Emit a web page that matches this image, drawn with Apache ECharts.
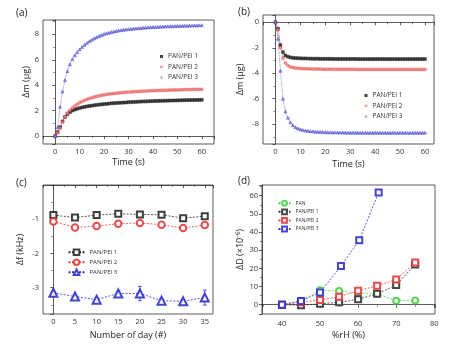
<!DOCTYPE html>
<html lang="en">
<head>
<meta charset="UTF-8">
<title>QCM humidity panels</title>
<script src="https://cdn.jsdelivr.net/npm/echarts@6/dist/echarts.min.js"></script>
<style>
    html, body { margin: 0; padding: 0; background: #fff; }
    #chart { width: 456px; height: 351px; }
</style>
</head>
<body>
<div id="chart"></div>
<script>
    // (a) adsorption, (b) desorption: time in s, mass change in ug
    var timeA = [0,1,2,3,4,5,6,7,8,9,10,11,12,13,14,15,16,17,18,19,20,21,22,23,24,25,26,27,28,29,30,
                 31,32,33,34,35,36,37,38,39,40,41,42,43,44,45,46,47,48,49,50,51,52,53,54,55,56,57,58,59,60];
    var ads1 = [0,0.3,0.7,1.15,1.5,1.72,1.88,2.0,2.08,2.14,2.2,2.25,2.29,2.33,2.36,2.39,2.42,2.45,2.47,2.49,2.51,
                2.53,2.55,2.57,2.58,2.6,2.61,2.62,2.63,2.64,2.66,2.67,2.68,2.69,2.7,2.71,2.72,2.72,2.73,2.74,2.75,
                2.76,2.76,2.77,2.77,2.78,2.78,2.79,2.79,2.8,2.8,2.81,2.81,2.82,2.82,2.83,2.83,2.83,2.84,2.84,2.85];
    var ads2 = [0,0.25,0.6,1.1,1.5,1.8,2.02,2.2,2.36,2.5,2.62,2.72,2.81,2.89,2.96,3.02,3.07,3.12,3.16,3.2,3.24,
                3.27,3.3,3.32,3.35,3.37,3.39,3.41,3.43,3.44,3.46,3.47,3.48,3.5,3.51,3.52,3.53,3.54,3.55,3.56,3.57,
                3.58,3.58,3.59,3.6,3.6,3.61,3.62,3.62,3.63,3.63,3.64,3.64,3.65,3.65,3.66,3.66,3.67,3.67,3.67,3.68];
    var ads3 = [0,0.7,2.3,3.5,4.4,5.1,5.65,6.05,6.35,6.6,6.82,7.0,7.17,7.32,7.46,7.58,7.69,7.78,7.87,7.95,8.02,
                8.08,8.13,8.18,8.22,8.26,8.3,8.33,8.36,8.39,8.41,8.43,8.45,8.47,8.49,8.5,8.52,8.53,8.55,8.56,8.57,
                8.58,8.59,8.6,8.61,8.62,8.63,8.64,8.64,8.65,8.66,8.66,8.67,8.68,8.68,8.69,8.69,8.7,8.7,8.71,8.72];
    var timeB = timeA;
    var des1 = [0,-0.5,-1.8,-2.35,-2.6,-2.7,-2.76,-2.79,-2.81,-2.82,-2.83,-2.84,-2.84,-2.85,-2.85,-2.86,-2.86,-2.86,-2.87,-2.87,-2.87,
                -2.87,-2.87,-2.88,-2.88,-2.88,-2.88,-2.88,-2.88,-2.88,-2.88,-2.88,-2.88,-2.89,-2.89,-2.89,-2.89,-2.89,-2.89,-2.89,-2.89,
                -2.89,-2.89,-2.89,-2.89,-2.89,-2.89,-2.89,-2.89,-2.89,-2.89,-2.89,-2.89,-2.89,-2.89,-2.89,-2.89,-2.89,-2.89,-2.89,-2.89];
    var des2 = [0,-0.6,-2.0,-2.8,-3.2,-3.4,-3.5,-3.55,-3.59,-3.61,-3.63,-3.64,-3.65,-3.65,-3.66,-3.66,-3.67,-3.67,-3.67,-3.68,-3.68,
                -3.68,-3.68,-3.68,-3.69,-3.69,-3.69,-3.69,-3.69,-3.69,-3.69,-3.69,-3.7,-3.7,-3.7,-3.7,-3.7,-3.7,-3.7,-3.7,-3.7,
                -3.7,-3.7,-3.7,-3.7,-3.7,-3.7,-3.7,-3.7,-3.7,-3.7,-3.7,-3.7,-3.7,-3.7,-3.7,-3.7,-3.7,-3.7,-3.7,-3.7];
    var des3 = [0,-1.3,-3.8,-6.0,-7.0,-7.5,-7.85,-8.08,-8.23,-8.33,-8.4,-8.45,-8.49,-8.52,-8.54,-8.56,-8.58,-8.59,-8.6,-8.61,-8.62,
                -8.63,-8.63,-8.64,-8.64,-8.65,-8.65,-8.65,-8.66,-8.66,-8.66,-8.66,-8.66,-8.66,-8.67,-8.67,-8.67,-8.67,-8.67,-8.67,-8.67,
                -8.67,-8.67,-8.67,-8.67,-8.67,-8.67,-8.67,-8.67,-8.67,-8.67,-8.67,-8.67,-8.67,-8.67,-8.67,-8.67,-8.67,-8.67,-8.67,-8.67];

    // (c) stability over days, frequency shift in kHz
    var days = [0,5,10,15,20,25,30,35];
    var freq1 = [-0.88,-0.95,-0.88,-0.84,-0.86,-0.87,-0.97,-0.91];
    var freq2 = [-1.07,-1.24,-1.2,-1.13,-1.11,-1.16,-1.26,-1.17];
    var freq3 = [-3.15,-3.26,-3.35,-3.17,-3.17,-3.38,-3.4,-3.29];
    var freq3Err = [0.03,0.04,0.04,0.07,0.21,0.06,0.05,0.22];

    // (d) dissipation vs relative humidity
    var rh = [40,45,50,55,60,65,70,75];
    var dPAN = [0,2.2,8.0,7.6,6.5,6.0,2.2,2.3];
    var dPEI1 = [0,-0.3,0.5,1.3,3.0,6.0,10.8,22.2];
    var dPEI2 = [0,1.4,2.6,4.4,7.7,10.4,13.9,23.2];
    var rh3 = [40,45,50,55.5,60.3,65.4];
    var dPEI3 = [0,2,6.8,21.3,35.5,61.8];

    var names = ['PAN/PEI 1','PAN/PEI 2','PAN/PEI 3'];
    var BLACK = '#333333', RED = '#e23b3b', BLUE = '#3030c8', GREEN = '#49d049';
    var FONT = 'Open Sans';

    function zip(xs, ys) {
        return xs.map(function (x, i) { return [x, ys[i]]; });
    }
    function strip(n) { return n.split(':')[1]; }

    function xAx(gi, min, max, split, name, gap, margin) {
        return {
            gridIndex: gi, type: 'value', min: min, max: max, splitNumber: split,
            name: name, nameLocation: 'middle', nameGap: gap,
            nameTextStyle: {fontFamily: FONT, fontSize: 9, color: '#222'},
            axisLine: {lineStyle: {color: '#333', width: 0.8}},
            axisTick: {inside: false, length: 3, lineStyle: {color: '#333', width: 0.8}},
            minorTick: {show: true, splitNumber: 2, length: 2, lineStyle: {color: '#333', width: 0.6}},
            axisLabel: {fontFamily: FONT, fontSize: 7.5, color: '#333', margin: margin,
                        showMinLabel: false, showMaxLabel: false},
            splitLine: {show: false}
        };
    }
    function yAx(gi, min, max, name, gap) {
        var a = xAx(gi, min, max, 5, name, gap, 4);
        a.nameRotate = 90;
        return a;
    }

    function dense(gi, key, name, xs, ys, symbol, color, fill) {
        return {
            name: key + ':' + name, type: 'line', xAxisIndex: gi, yAxisIndex: gi,
            data: zip(xs, ys), symbol: symbol, symbolSize: 3,
            itemStyle: {color: fill, borderColor: color, borderWidth: 0.5, opacity: 0.85},
            lineStyle: {color: color, width: 0.6, type: 'dotted'}
        };
    }
    function sparse(gi, key, name, xs, ys, symbol, size, color) {
        return {
            name: key + ':' + name, type: 'line', xAxisIndex: gi, yAxisIndex: gi,
            data: zip(xs, ys), symbol: symbol, symbolSize: size,
            itemStyle: {color: color, borderWidth: 1, opacity: 0.9},
            lineStyle: {color: color, width: 0.8, type: [2, 1.5]}
        };
    }
    function smallLegend(left, top, key) {
        return {
            left: left, top: top, orient: 'vertical', itemWidth: 3, itemHeight: 3, itemGap: 2.3,
            selectedMode: false, formatter: strip,
            itemStyle: {borderWidth: 0},
            textStyle: {fontSize: 6.5, lineHeight: 8, color: '#333'},
            data: [{name: key + ':' + names[0], icon: 'rect'}, {name: key + ':' + names[1], icon: 'circle'},
                   {name: key + ':' + names[2], icon: 'triangle'}]
        };
    }
    function label(text, left, top) {
        return {text: text, left: left, top: top, padding: 0,
                textStyle: {fontSize: 10, fontWeight: 'normal', color: '#222', fontFamily: FONT}};
    }

    var chart = echarts.init(document.getElementById('chart'));

    var errData = days.map(function (d, i) {
        return [d, freq3[i] - freq3Err[i], freq3[i] + freq3Err[i]];
    });

    var option = {
        animation: false,
        textStyle: {fontFamily: FONT},
        title: [label('(a)', 16, 8), label('(b)', 238, 7), label('(c)', 16, 178), label('(d)', 238, 176)],
        grid: [
            {left: 43, top: 20, width: 171, height: 124, show: true, borderColor: '#333', borderWidth: 0.8},
            {left: 263, top: 15, width: 171, height: 129, show: true, borderColor: '#333', borderWidth: 0.8},
            {left: 43, top: 185, width: 170, height: 129, show: true, borderColor: '#333', borderWidth: 0.8},
            {left: 262, top: 185, width: 173, height: 129, show: true, borderColor: '#333', borderWidth: 0.8}
        ],
        xAxis: [
            xAx(0, -5, 65, 5, 'Time (s)', 14, 4),
            xAx(1, -5, 63.6, 5, 'Time (s)', 16, 4),
            xAx(2, -2.4, 36.9, 8, 'Number of day (#)', 17, 4),
            xAx(3, 34.75, 80.2, 5, '%rH (%)', 17, 6)
        ],
        yAxis: [
            yAx(0, -0.63, 9.13, 'Δm (μg)', 10),
            yAx(1, -9.55, 0.57, 'Δm (μg)', 18),
            yAx(2, -3.77, 0, 'Δf (kHz)', 18),
            yAx(3, -5.1, 65.9, 'ΔD (×10⁻⁶)', 17)
        ],
        legend: [
            smallLegend(155, 47.5, 'a'),
            smallLegend(359.5, 86.5, 'b'),
            {left: 62.5, top: 243.3, orient: 'vertical', itemWidth: 16, itemHeight: 7, itemGap: 2,
             selectedMode: false, formatter: strip,
             textStyle: {fontSize: 6, lineHeight: 8, color: '#333'},
             data: ['c:' + names[0], 'c:' + names[1], 'c:' + names[2]]},
            {left: 272.5, top: 194.8, orient: 'vertical', itemWidth: 12, itemHeight: 6, itemGap: 1.8,
             selectedMode: false, formatter: strip,
             textStyle: {fontSize: 5, lineHeight: 6.5, color: '#333'},
             data: ['d:PAN', 'd:' + names[0], 'd:' + names[1], 'd:' + names[2]]}
        ],
        series: [
            dense(0, 'a', names[0], timeA, ads1, 'rect', BLACK, '#222'),
            dense(0, 'a', names[1], timeA, ads2, 'circle', RED, '#f08a8a'),
            dense(0, 'a', names[2], timeA, ads3, 'triangle', BLUE, '#8a8ae8'),
            dense(1, 'b', names[0], timeB, des1, 'rect', BLACK, '#222'),
            dense(1, 'b', names[1], timeB, des2, 'circle', RED, '#f08a8a'),
            dense(1, 'b', names[2], timeB, des3, 'triangle', BLUE, '#8a8ae8'),
            {
                type: 'custom', xAxisIndex: 2, yAxisIndex: 2, data: errData, z: 1,
                renderItem: function (params, api) {
                    var lo = api.coord([api.value(0), api.value(1)]);
                    var hi = api.coord([api.value(0), api.value(2)]);
                    var st = {stroke: BLUE, lineWidth: 0.8};
                    return {type: 'group', children: [
                        {type: 'line', shape: {x1: lo[0], y1: lo[1], x2: hi[0], y2: hi[1]}, style: st},
                        {type: 'line', shape: {x1: lo[0] - 2, y1: lo[1], x2: lo[0] + 2, y2: lo[1]}, style: st},
                        {type: 'line', shape: {x1: hi[0] - 2, y1: hi[1], x2: hi[0] + 2, y2: hi[1]}, style: st}
                    ]};
                }
            },
            sparse(2, 'c', names[0], days, freq1, 'emptyRect', 6, '#2a2a2a'),
            sparse(2, 'c', names[1], days, freq2, 'emptyCircle', 6.5, RED),
            sparse(2, 'c', names[2], days, freq3, 'emptyTriangle', 8, BLUE),
            sparse(3, 'd', 'PAN', rh, dPAN, 'emptyCircle', 6, GREEN),
            sparse(3, 'd', names[0], rh, dPEI1, 'emptyRect', 6, BLACK),
            sparse(3, 'd', names[1], rh, dPEI2, 'emptyRect', 6, RED),
            sparse(3, 'd', names[2], rh3, dPEI3, 'emptyRect', 6, BLUE)
        ]
    };

    chart.setOption(option);
</script>
</body>
</html>
